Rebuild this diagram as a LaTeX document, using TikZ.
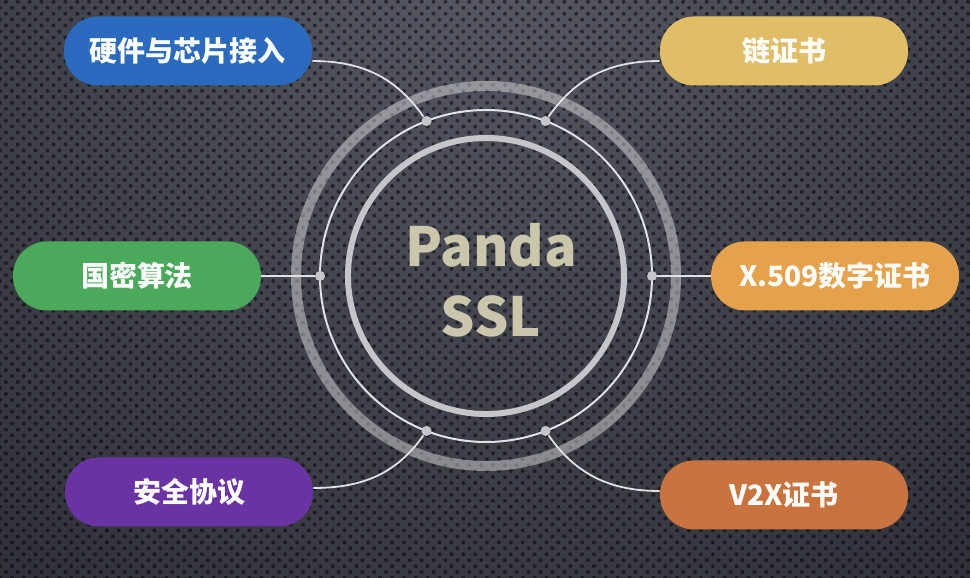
\documentclass[tikz,border=0pt]{standalone}
\usepackage{fontspec}
\setmainfont{Noto Sans CJK SC}
\usetikzlibrary{positioning,patterns.meta}
\definecolor{bgtop}{HTML}{575A65}
\definecolor{bgbot}{HTML}{1E1F24}
\definecolor{hwblue}{HTML}{2B6BBF}
\definecolor{chgold}{HTML}{E0BD67}
\definecolor{smgreen}{HTML}{4AA95A}
\definecolor{xporange}{HTML}{E5A24B}
\definecolor{sppurple}{HTML}{6A33A3}
\definecolor{vxbrown}{HTML}{C9733F}
\definecolor{pandatext}{HTML}{C9C6AC}
\definecolor{ringgray}{HTML}{C6C6CA}
\definecolor{linkgray}{HTML}{E2E2E6}

\begin{document}
\begin{tikzpicture}[x=0.5pt,y=0.5pt, every node/.style={font=\bfseries\fontsize{14}{16}\selectfont}, pill/.style={rounded corners=17pt,minimum width=124pt,minimum height=34.5pt,text=white}, link/.style={draw=linkgray,line width=0.9pt}, hub/.style={circle,fill=ringgray,inner sep=0pt,minimum size=5pt}]
\useasboundingbox (0,0) rectangle (970,578);
\begin{scope}
\clip (0,0) rectangle (970,578);
\shade[inner color=bgtop, outer color=bgbot] (485,640) circle (1150);
\fill[pattern={Dots[radius=1pt,distance=4.2pt,angle=45]}, pattern color=black, fill opacity=0.5] (0,0) rectangle (970,578);
\end{scope}
\coordinate (c) at (486,302);
\draw[white,opacity=0.4,line width=5pt] (c) circle (190);
\draw[ringgray,line width=3pt] (c) circle (138);
\draw[linkgray,line width=1pt] (c) circle (166);
\foreach \a/\n in {111/hw,69/ch,180/sm,0/xp,249/sp,291/vx}
  \path (c) ++(\a:166) node[hub] (d\n) {};
\node[pill,fill=hwblue] (hw) at (188,527) {硬件与芯片接入};
\node[pill,fill=chgold] (ch) at (784,527) {链证书};
\node[pill,fill=smgreen] (sm) at (137,302) {国密算法};
\node[pill,fill=xporange] (xp) at (835,302) {X.509数字证书};
\node[pill,fill=sppurple] (sp) at (189,86) {安全协议};
\node[pill,fill=vxbrown] (vx) at (784,83) {V2X证书};
\draw[link] ([yshift=-5pt]hw.east) to[out=0,in=125] (dhw);
\draw[link] ([yshift=-5pt]ch.west) to[out=180,in=55] (dch);
\draw[link] (sm) -- (dsm);
\draw[link] (dxp) -- (xp);
\draw[link] ([yshift=2pt]sp.east) to[out=0,in=-125] (dsp);
\draw[link] ([yshift=2pt]vx.west) to[out=180,in=-55] (dvx);
\node[text=pandatext,font=\bfseries\fontsize{27}{35}\selectfont,align=center] (title) at (491,298) {Panda\\SSL};
\end{tikzpicture}
\end{document}
